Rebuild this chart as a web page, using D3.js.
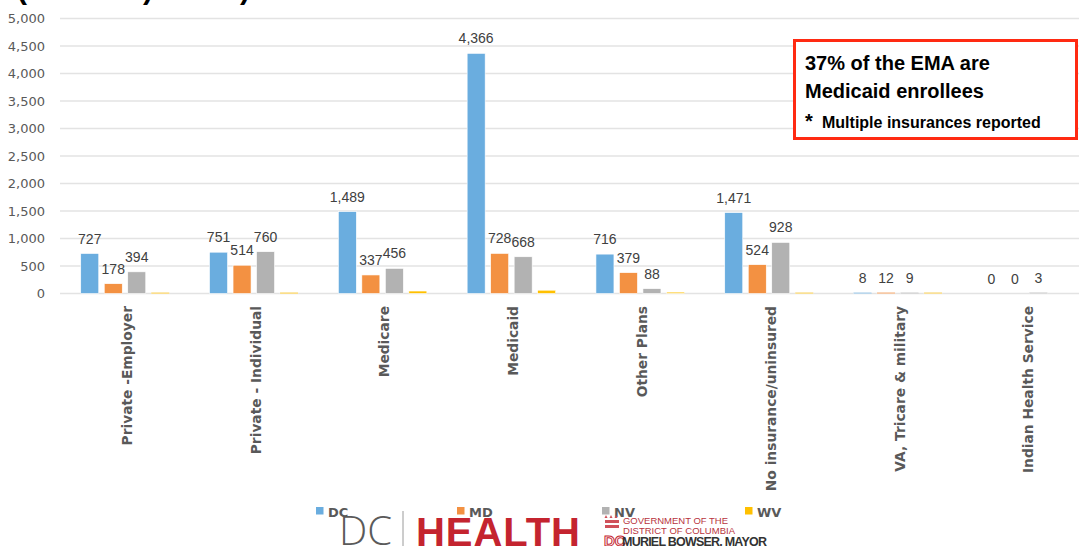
<!DOCTYPE html>
<html>
<head>
<meta charset="utf-8">
<script src="https://cdn.jsdelivr.net/npm/d3@7"></script>
<style>
  html, body { margin: 0; padding: 0; background: #fff; }
  svg { display: block; }
</style>
</head>
<body>
<svg id="chart" width="1079" height="546"></svg>
<script>
// ---- data ----
const categories = ["Private -Employer", "Private - Individual", "Medicare", "Medicaid",
  "Other Plans", "No insurance/uninsured", "VA, Tricare & military", "Indian Health Service"];
const seriesNames = ["DC", "MD", "NV", "WV"];
const dcValues = [727, 751, 1489, 4366, 716, 1471, 8, 0];
const mdValues = [178, 514, 337, 728, 379, 524, 12, 0];
const nvValues = [394, 760, 456, 668, 88, 928, 9, 3];
const wvValues = [8, 10, 45, 60, 25, 6, 5, 0]; // unlabeled in source, estimated
const seriesColors = ["#6aaddf", "#f39142", "#b2b2b2", "#ffc000"];
const labeledSeries = [true, true, true, false];
const yTicks = [0, 500, 1000, 1500, 2000, 2500, 3000, 3500, 4000, 4500, 5000];

const seriesValues = [dcValues, mdValues, nvValues, wvValues];
const rows = categories.map((c, i) => ({
  category: c,
  values: seriesNames.map((s, j) => ({ series: s, idx: j, value: seriesValues[j][i] }))
}));

const svg = d3.select("#chart");

const x0 = d3.scaleBand().domain(categories).range([60.6, 1091]).paddingInner(0).paddingOuter(0);
const x1 = d3.scaleBand().domain(seriesNames).range([0, x0.bandwidth()]).paddingInner(0.234).paddingOuter(0.857);
const y = d3.scaleLinear().domain([0, 5000]).range([293.5, 18.5]);

// partial (cropped) title at top
const titleG = svg.append("g")
  .attr("font-family", "Liberation Sans, Arial, sans-serif")
  .attr("font-weight", "bold").attr("font-size", 30).attr("fill", "#000");
[["(", 17], [")", 143], [")", 240]].forEach(([t, xx]) => {
  titleG.append("text").attr("x", xx).attr("y", -1).text(t);
});

// gridlines
svg.append("g").selectAll("line").data(yTicks).join("line")
  .attr("x1", 60).attr("x2", 1079)
  .attr("y1", d => y(d)).attr("y2", d => y(d))
  .attr("stroke", "#e3e3e3").attr("stroke-width", 1.3);

// y axis labels
const yAxis = d3.axisLeft(y).tickValues(yTicks).tickFormat(d3.format(",")).tickSize(0).tickPadding(0);
const yg = svg.append("g").attr("transform", "translate(45,0)").call(yAxis);
yg.select(".domain").remove();
yg.selectAll("text")
  .attr("font-family", "DejaVu Sans, Verdana, sans-serif")
  .attr("font-size", 13).attr("fill", "#595959");

// bars
const groups = svg.append("g").selectAll("g").data(rows).join("g")
  .attr("transform", d => `translate(${x0(d.category)},0)`);

groups.selectAll("rect").data(d => d.values).join("rect")
  .attr("x", d => x1(d.series))
  .attr("width", x1.bandwidth())
  .attr("y", d => y(d.value))
  .attr("height", d => Math.max(0, y(0) - y(d.value)))
  .attr("fill", d => seriesColors[d.idx])
  .attr("stroke", "#ffffff").attr("stroke-width", 0.6);

// thin baseline slivers for tiny values (visible as lines)
groups.selectAll("line.sl").data(d => d.values.filter(v => v.value > 0 && v.value < 20)).join("line")
  .attr("class", "sl")
  .attr("x1", d => x1(d.series)).attr("x2", d => x1(d.series) + x1.bandwidth())
  .attr("y1", y(0) - 0.5).attr("y2", y(0) - 0.5)
  .attr("stroke", d => seriesColors[d.idx]).attr("stroke-opacity", 0.6).attr("stroke-width", 1);

// value labels
groups.selectAll("text").data(d => d.values.filter(v => labeledSeries[v.idx])).join("text")
  .attr("x", d => x1(d.series) + x1.bandwidth() / 2)
  .attr("y", d => y(d.value) - 10)
  .attr("text-anchor", "middle")
  .attr("font-family", "Liberation Sans, Arial, sans-serif")
  .attr("font-size", 14).attr("fill", "#404040")
  .text(d => d3.format(",")(d.value));

// category labels
const xAxis = d3.axisBottom(x0).tickSize(0).tickPadding(0);
const xg = svg.append("g").attr("transform", "translate(0,306)").call(xAxis);
xg.select(".domain").remove();
xg.selectAll("text")
  .attr("transform", "rotate(-90)")
  .attr("x", 0).attr("y", 2).attr("dy", "0.35em")
  .attr("text-anchor", "end")
  .attr("font-family", "DejaVu Sans, Verdana, sans-serif")
  .attr("font-weight", "bold")
  .attr("font-size", 13.8).attr("fill", "#595959");

// legend
const legendX = [316, 457, 602, 745];
const lg = svg.append("g").selectAll("g").data(seriesNames).join("g")
  .attr("transform", (d, i) => `translate(${legendX[i]},507)`);
lg.append("rect").attr("width", 7.5).attr("height", 7.5).attr("fill", (d, i) => seriesColors[i]);
lg.append("text").attr("x", 12).attr("y", 10)
  .attr("font-family", "DejaVu Sans, Verdana, sans-serif").attr("font-weight", "bold")
  .attr("font-size", 13).attr("fill", "#595959").text(d => d);

// DC Health logo
const logo = svg.append("g");
logo.append("text").attr("x", 339).attr("y", 545)
  .attr("font-family", "Open Sans, Lato, sans-serif").attr("font-weight", 300)
  .attr("font-size", 40).attr("fill", "#5a5a5a").text("DC");
logo.append("line").attr("x1", 403).attr("x2", 403).attr("y1", 511).attr("y2", 546)
  .attr("stroke", "#9a9a9a").attr("stroke-width", 1);
logo.append("text").attr("x", 416).attr("y", 546)
  .attr("font-family", "Liberation Sans, Arial, sans-serif").attr("font-weight", "bold")
  .attr("font-size", 40).attr("fill", "#c4242f").attr("textLength", 164).text("HEALTH");

// Government logo
const gov = svg.append("g");
[606, 611, 616].forEach(xx => gov.append("path")
  .attr("d", `M${xx},515 l1.5,3 l-3,0 z`).attr("fill", "#d0515a"));
gov.append("rect").attr("x", 605).attr("y", 520).attr("width", 14).attr("height", 3).attr("fill", "#d0515a");
gov.append("rect").attr("x", 605).attr("y", 525).attr("width", 14).attr("height", 3).attr("fill", "#d0515a");
gov.append("text").attr("x", 604).attr("y", 546)
  .attr("font-family", "Liberation Sans, Arial, sans-serif").attr("font-weight", "bold")
  .attr("font-size", 15).attr("fill", "none").attr("stroke", "#c4242f").attr("stroke-width", 1).text("DC");
gov.append("text").attr("x", 623).attr("y", 524)
  .attr("font-family", "Liberation Sans, Arial, sans-serif")
  .attr("font-size", 9.5).attr("fill", "#b83340").attr("textLength", 105).text("GOVERNMENT OF THE");
gov.append("text").attr("x", 623).attr("y", 534)
  .attr("font-family", "Liberation Sans, Arial, sans-serif")
  .attr("font-size", 9.5).attr("fill", "#b83340").attr("textLength", 112).text("DISTRICT OF COLUMBIA");
gov.append("text").attr("x", 622).attr("y", 546)
  .attr("font-family", "Liberation Sans, Arial, sans-serif").attr("font-weight", "bold")
  .attr("font-size", 12.5).attr("fill", "#333").attr("textLength", 145).text("MURIEL BOWSER, MAYOR");

// annotation box
const ann = svg.append("g");
ann.append("rect").attr("x", 794.5).attr("y", 40.5).attr("width", 282).attr("height", 98)
  .attr("fill", "#fff").attr("stroke", "#ff2a12").attr("stroke-width", 3);
ann.append("text").attr("x", 805).attr("y", 70)
  .attr("font-family", "Liberation Sans, Arial, sans-serif").attr("font-weight", "bold")
  .attr("font-size", 20).attr("fill", "#000").text("37% of the EMA are");
ann.append("text").attr("x", 805).attr("y", 98)
  .attr("font-family", "Liberation Sans, Arial, sans-serif").attr("font-weight", "bold")
  .attr("font-size", 20).attr("fill", "#000").text("Medicaid enrollees");
const foot = ann.append("text").attr("x", 805).attr("y", 128)
  .attr("font-family", "Liberation Sans, Arial, sans-serif").attr("font-weight", "bold").attr("fill", "#000");
foot.append("tspan").attr("font-size", 20).attr("dy", 0).text("*");
foot.append("tspan").attr("x", 822).attr("font-size", 16).text("Multiple insurances reported");
</script>
</body>
</html>
